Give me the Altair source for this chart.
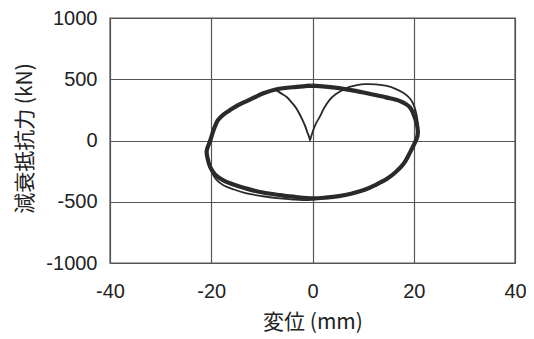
import altair as alt
import pandas as pd

# Main (repeated) hysteresis loop
main_x = [-0.2, 2.5, 5.2, 8.5, 11.6, 14.5, 17.3, 19.2, 20.4, 20.8, 20.7, 20.2, 19.3, 18.0, 16.5, 14.8, 12.5, 10.3, 7.8, 5.2, 2.6, 0.1,
          -3.2, -6.4, -9.8, -13.0, -15.5, -17.6, -19.2, -20.2, -20.7, -20.9, -20.2, -19.5, -18.7, -17.6, -16.3, -14.7, -13.0,
          -11.3, -9.7, -7.1, -3.1, -0.2]
main_y = [448, 440, 428, 405, 378, 352, 322, 273, 164, 82, 30, -20, -95, -190, -255, -311, -362, -402, -432, -454, -466, -472,
          -462, -446, -425, -393, -362, -326, -280, -218, -150, -85, 0, 90, 165, 212, 248, 288, 322,
          355, 385, 418, 438, 448]

# First cycle: starts at the origin, overshoots at top right, runs below the loop at bottom left
first_x = [-0.5, 0.1, 0.7, 1.4, 2.3, 3.3, 4.5, 5.9, 7.3, 8.8, 10.3, 12.5, 14.7, 16.5, 18.0, 19.2, 19.9, 20.5, 20.8,
           20.8, 20.3, 19.3, 18.0, 16.5, 14.8, 12.5, 10.3, 7.8, 5.2, 2.6, 0.0, -1.2, -3.8, -6.5, -9.8, -13.0, -15.5, -17.6,
           -19.0, -20.0, -20.6]
first_y = [0, 80, 140, 191, 265, 328, 375, 410, 437, 452, 460, 458, 445, 420, 388, 345, 300, 220, 140,
           80, 0, -95, -190, -255, -311, -362, -402, -432, -455, -470, -482, -487, -482, -473, -455, -432, -400, -365,
           -320, -250, -180]

# Last branch: from the top of the loop back to the origin
last_x = [-7.3, -6.2, -5.1, -4.1, -3.15, -2.3, -1.5, -1.0, -0.6, -0.5]
last_y = [415, 385, 355, 310, 260, 195, 123, 65, 20, 0]

x_ticks = [-40, -20, 0, 20, 40]
y_ticks = [-1000, -500, 0, 500, 1000]


def frame(xs, ys):
    return pd.DataFrame({"x": xs, "y": ys, "i": list(range(len(xs)))})


lab_font = "Liberation Sans"
cjk_font = "Noto Sans CJK JP"
ink = "#2a2a2a"
grid = "#555555"
W, H = 405, 245
PAD_L = 102

x_enc = alt.X("x:Q", scale=alt.Scale(domain=[-40, 40], nice=False, zero=False),
              axis=alt.Axis(values=x_ticks, title="変位 (mm)", grid=True, gridColor=grid, gridWidth=1.2,
                            gridOpacity=1, ticks=False, tickSize=0, domain=False, labelFlush=False,
                            labelExpr="'' + datum.value",
                            labelFont=lab_font, labelFontSize=20, labelColor="#222", labelPadding=18,
                            titleFont=cjk_font, titleFontSize=21, titleFontWeight="normal", titleColor="#222",
                            titleX=W / 2, titleY=59, titleAlign="center", titleBaseline="middle"))
y_enc = alt.Y("y:Q", scale=alt.Scale(domain=[-1000, 1000], nice=False, zero=False),
              axis=alt.Axis(values=y_ticks, title="減衰抵抗力 (kN)", grid=True, gridColor=grid, gridWidth=1.2,
                            gridOpacity=1, ticks=False, tickSize=0, domain=False, labelFlush=False,
                            labelExpr="'' + datum.value",
                            labelFont=lab_font, labelFontSize=20, labelColor="#222", labelPadding=13,
                            titleFont=cjk_font, titleFontSize=21, titleFontWeight="normal", titleColor="#222",
                            titleX=-85, titleY=120, titleAngle=270, titleAlign="center", titleBaseline="middle"))

main = alt.Chart(frame(main_x, main_y)).mark_line(color=ink, strokeWidth=4.2, interpolate="catmull-rom").encode(
    x=x_enc, y=y_enc, order="i:Q")
first = alt.Chart(frame(first_x, first_y)).mark_line(color=ink, strokeWidth=1.8, interpolate="catmull-rom").encode(
    x=x_enc, y=y_enc, order="i:Q")
last = alt.Chart(frame(last_x, last_y)).mark_line(color=ink, strokeWidth=1.9, interpolate="catmull-rom").encode(
    x=x_enc, y=y_enc, order="i:Q")

chart = alt.layer(first, main, last).properties(
    width=W, height=H,
    autosize=alt.AutoSizeParams(type="none"),
    padding={"left": PAD_L, "top": 10, "right": 11, "bottom": 74},
    background="white",
).configure_view(stroke=grid, strokeWidth=1.4)

chart.save("out.html", embed_options={"renderer": "svg", "actions": False})
